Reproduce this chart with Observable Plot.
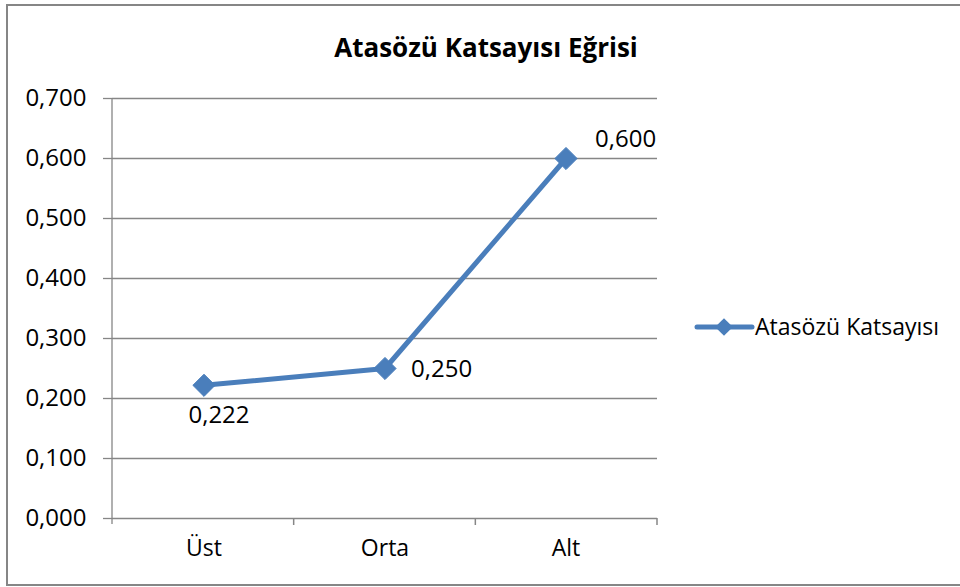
<!DOCTYPE html>
<html>
<head>
<meta charset="utf-8">
<script src="https://cdn.jsdelivr.net/npm/d3@7"></script>
<script src="https://cdn.jsdelivr.net/npm/@observablehq/plot@0.6"></script>
<style>
  html, body { margin: 0; padding: 0; background: #fff; }
  svg { display: block; }
</style>
</head>
<body>
<div id="chart"></div>
<script>
const categories = ["Üst", "Orta", "Alt"];
const values = [0.222, 0.250, 0.600];
const labels = ["0,222", "0,250", "0,600"];
const yTicks = [0, 0.1, 0.2, 0.3, 0.4, 0.5, 0.6, 0.7];
const seriesName = "Atasözü Katsayısı";
const title = "Atasözü Katsayısı Eğrisi";

const data = categories.map((c, i) => ({cat: c, value: values[i], label: labels[i]}));
const fmt = d => d.toFixed(3).replace(".", ",");
const lineColor = "#4A7EBB";
const gridColor = "#868686";
const font = "Open Sans, sans-serif";

const W = 960, H = 587;
const mLeft = 112, mRight = 303, mTop = 98, mBottom = 69;

const chart = Plot.plot({
  width: W,
  height: H,
  marginLeft: mLeft,
  marginRight: mRight,
  marginTop: mTop,
  marginBottom: mBottom,
  style: {fontFamily: font, fontSize: "20px", color: "#000", background: "#fff", overflow: "visible"},
  x: {type: "band", domain: categories, padding: 0, axis: null, label: null},
  y: {domain: [0, 0.7], axis: null, label: null},
  marks: [
    Plot.ruleY(yTicks, {stroke: gridColor, strokeWidth: 1.3, strokeOpacity: 1}),
    Plot.axisY({ticks: yTicks, tickFormat: fmt, tickSize: 9, tickPadding: 17, stroke: gridColor, strokeWidth: 1.3,
      strokeOpacity: 1, fontSize: 24, fill: "#000", anchor: "left", label: null}),
    Plot.axisX({tickSize: 0, tickPadding: 21, fontSize: 23, fill: "#000", anchor: "bottom", label: null}),
    Plot.line(data, {x: "cat", y: "value", stroke: lineColor, strokeWidth: 5}),
    Plot.dot(data, {x: "cat", y: "value", symbol: "diamond2", r: 10, fill: lineColor, stroke: lineColor, strokeWidth: 1}),
    Plot.text([data[0]], {x: "cat", y: "value", text: "label", dx: 15, dy: 30, fontSize: 24, fill: "#000", textAnchor: "middle"}),
    Plot.text([data[1]], {x: "cat", y: "value", text: "label", dx: 26, dy: 1, fontSize: 24, fill: "#000", textAnchor: "start"}),
    Plot.text([data[2]], {x: "cat", y: "value", text: "label", dx: 29, dy: -19, fontSize: 24, fill: "#000", textAnchor: "start"})
  ]
});

const svg = d3.select(chart);
// vertical y-axis line and x-axis band ticks
const x0 = mLeft, x1 = W - mRight, yb = H - mBottom;
const bw = (x1 - x0) / categories.length;
svg.append("line").attr("x1", x0).attr("x2", x0).attr("y1", mTop).attr("y2", yb + 6)
  .attr("stroke", gridColor).attr("stroke-width", 1.3);
categories.forEach((c, i) => {
  const xx = x0 + bw * (i + 1);
  svg.append("line").attr("x1", xx).attr("x2", xx).attr("y1", yb).attr("y2", yb + 7)
    .attr("stroke", gridColor).attr("stroke-width", 1.5);
});
// Outer border
svg.append("rect").attr("x", 7).attr("y", 5).attr("width", 960).attr("height", 580)
  .attr("fill", "none").attr("stroke", gridColor).attr("stroke-width", 2);
// Title
svg.append("text").attr("x", 486).attr("y", 57).attr("text-anchor", "middle")
  .attr("font-family", font).attr("font-weight", "bold").attr("font-size", 26).attr("fill", "#000").text(title);
// Legend
const ly = 327;
svg.append("line").attr("x1", 697).attr("x2", 752).attr("y1", ly).attr("y2", ly)
  .attr("stroke", lineColor).attr("stroke-width", 5).attr("stroke-linecap", "round");
svg.append("path").attr("d", d3.symbol(d3.symbolDiamond2, 200)())
  .attr("transform", `translate(724,${ly})`).attr("fill", lineColor);
svg.append("text").attr("x", 755).attr("y", ly).attr("dy", "0.35em").attr("text-anchor", "start")
  .attr("font-family", font).attr("font-size", 23).attr("fill", "#000").text(seriesName);

document.getElementById("chart").appendChild(chart);
</script>
</body>
</html>
